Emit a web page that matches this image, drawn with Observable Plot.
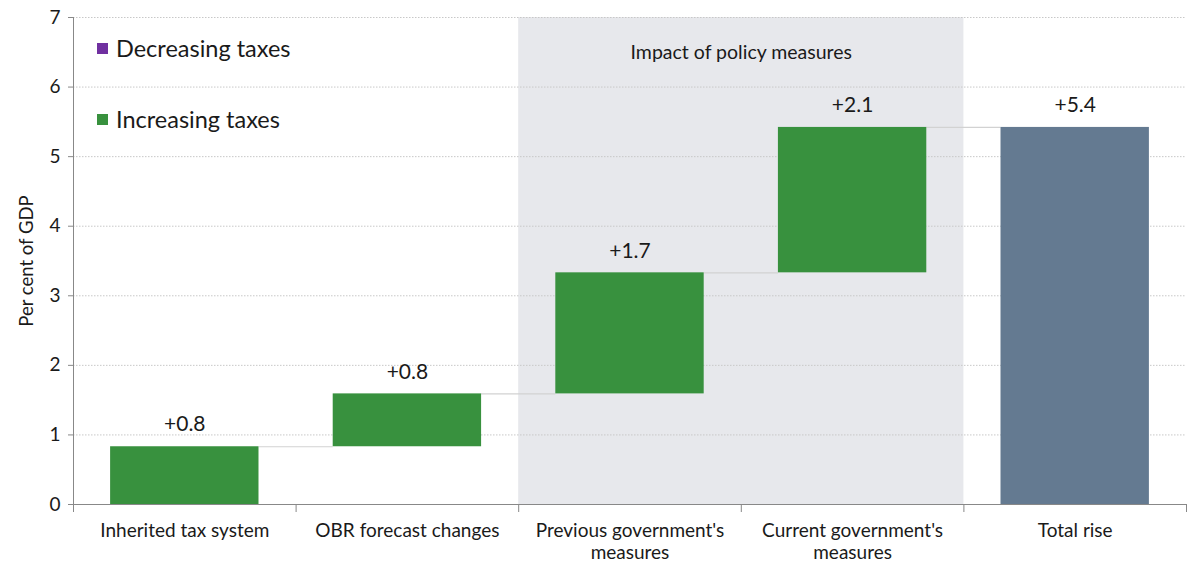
<!DOCTYPE html>
<html><head><meta charset="utf-8">
<script src="https://cdn.jsdelivr.net/npm/d3@7"></script>
<script src="https://cdn.jsdelivr.net/npm/@observablehq/plot@0.6"></script>
<style>
body{margin:0;background:#fff;font-family:Lato,"Noto Sans",sans-serif;}
#wrap{position:relative;width:1200px;height:569px;}
.leg{position:absolute;left:97px;display:flex;align-items:center;font-size:23.5px;color:#1a1a1a;}
.leg span.sw{display:inline-block;width:11px;height:11px;margin-right:8px;}
</style>
</head><body>
<div id="wrap"></div>
<script>
const categories = ["Inherited tax system", "OBR forecast changes", "Previous government's\nmeasures", "Current government's\nmeasures", "Total rise"];
const changes = [0.83, 0.76, 1.74, 2.09];
const total = 5.42;
const valueLabels = ["+0.8", "+0.8", "+1.7", "+2.1", "+5.4"];
const yTicks = [0, 1, 2, 3, 4, 5, 6, 7];
const shadedCategories = ["Previous government's\nmeasures", "Current government's\nmeasures"];
const shadedLabel = "Impact of policy measures";
const yLabel = "Per cent of GDP";
const legendItems = [{label: "Decreasing taxes", color: "#7030a0"}, {label: "Increasing taxes", color: "#38913e"}];

const colors = {increase: "#38913e", decrease: "#7030a0", total: "#647a91"};

// waterfall table
let run = 0;
const rows = changes.map((v, i) => {
  const start = run; run += v;
  return {i, start, end: run, label: valueLabels[i], fill: v >= 0 ? colors.increase : colors.decrease};
});
rows.push({i: changes.length, start: 0, end: total, label: valueLabels[changes.length], fill: colors.total});
const connectors = rows.slice(0, -1).map(r => ({x1: r.i + 0.8333, x2: r.i + 1.1667, y: r.end}));
const shadeIdx = shadedCategories.map(c => categories.indexOf(c));
const shade = [{x1: Math.min(...shadeIdx), x2: Math.max(...shadeIdx) + 1}];
const bounds = d3.range(categories.length + 1);
const centers = categories.map((c, i) => i + 0.5);

const chart = Plot.plot({
  width: 1200, height: 569,
  marginLeft: 73, marginRight: 14, marginTop: 17, marginBottom: 65,
  style: {fontFamily: "Lato, 'Noto Sans', sans-serif", fontSize: "19px", color: "#1a1a1a", background: "#fff"},
  x: {domain: [0, categories.length]},
  y: {domain: [0, 7]},
  marks: [
    Plot.rect(shade, {x1: "x1", x2: "x2", y1: 0, y2: 7, fill: "#e7e8ec"}),
    Plot.gridY(yTicks.slice(1), {stroke: "#c8c8c8", strokeOpacity: 1, strokeDasharray: "1.5,1.5"}),
    Plot.ruleY(connectors, {x1: "x1", x2: "x2", y: "y", stroke: "#d2d2d2", strokeWidth: 1.2}),
    Plot.rect(rows, {x1: d => d.i + 0.1667, x2: d => d.i + 0.8333, y1: "start", y2: "end", fill: "fill"}),
    Plot.text(rows, {x: d => d.i + 0.5, y: "end", text: "label", dy: -22, fontSize: 21, fill: "#1a1a1a"}),
    Plot.text([shadedLabel], {x: (shade[0].x1 + shade[0].x2) / 2, y: 6.5, text: d => d, fontSize: 19.5, fill: "#1a1a1a"}),
    Plot.axisY({ticks: yTicks, tickSize: 5, tickPadding: 8, tickFormat: "d", fontSize: 19, stroke: "#888", label: null}),
    Plot.text([yLabel], {frameAnchor: "left", textAnchor: "middle", rotate: -90, dx: -46, text: d => d, fontSize: 18.5, fill: "#1a1a1a"}),
    Plot.ruleX([0], {stroke: "#888"}),
    Plot.ruleY([0], {stroke: "#888"}),
    Plot.axisX({ticks: bounds, tickSize: 8, tickFormat: () => "", stroke: "#888", label: null}),
    Plot.axisX({ticks: centers, tickSize: 0, tickPadding: 16, tickFormat: v => categories[Math.round(v - 0.5)], fontSize: 19, lineHeight: 1.2, label: null})
  ]
});
const wrap = document.getElementById("wrap");
wrap.appendChild(chart);
legendItems.forEach((d, k) => {
  const div = document.createElement("div");
  div.className = "leg";
  div.style.top = (34 + k * 71) + "px";
  div.innerHTML = `<span class="sw" style="background:${d.color}"></span>${d.label}`;
  wrap.appendChild(div);
});
</script>
</body></html>
